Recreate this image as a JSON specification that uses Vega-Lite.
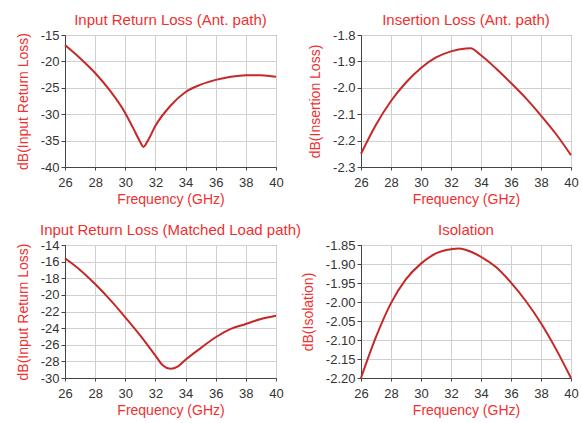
{
  "$schema": "https://vega.github.io/schema/vega-lite/v6.json",
  "background": "white",
  "padding": {"left": 15, "top": 12, "right": 5, "bottom": 5},
  "bounds": "flush",
  "columns": 2,
  "spacing": {"row": 78, "column": 85},
  "datasets": {
    "p1": [
      {"f": 26, "v": -16.9}, {"f": 27, "v": -19.4}, {"f": 28, "v": -22.2}, {"f": 29, "v": -25.6},
      {"f": 30, "v": -29.8}, {"f": 30.5, "v": -32.5}, {"f": 31, "v": -35.3}, {"f": 31.2, "v": -36.2},
      {"f": 31.5, "v": -35.0}, {"f": 32, "v": -32.2}, {"f": 33, "v": -28.4}, {"f": 34, "v": -25.8},
      {"f": 35, "v": -24.4}, {"f": 36, "v": -23.5}, {"f": 37, "v": -22.9}, {"f": 38, "v": -22.6},
      {"f": 39, "v": -22.6}, {"f": 40, "v": -22.9}
    ],
    "p2": [
      {"f": 26, "v": -2.25}, {"f": 27, "v": -2.14}, {"f": 28, "v": -2.05}, {"f": 29, "v": -1.98},
      {"f": 30, "v": -1.925}, {"f": 31, "v": -1.885}, {"f": 32, "v": -1.862}, {"f": 33, "v": -1.851},
      {"f": 33.3, "v": -1.85}, {"f": 34, "v": -1.877}, {"f": 35, "v": -1.927}, {"f": 36, "v": -1.982},
      {"f": 37, "v": -2.04}, {"f": 38, "v": -2.105}, {"f": 39, "v": -2.175}, {"f": 40, "v": -2.255}
    ],
    "p3": [
      {"f": 26, "v": -15.6}, {"f": 27, "v": -17.0}, {"f": 28, "v": -18.7}, {"f": 29, "v": -20.6},
      {"f": 30, "v": -22.7}, {"f": 31, "v": -24.9}, {"f": 32, "v": -27.3}, {"f": 32.5, "v": -28.5},
      {"f": 33, "v": -28.9}, {"f": 33.5, "v": -28.6}, {"f": 34, "v": -27.8}, {"f": 35, "v": -26.4},
      {"f": 36, "v": -25.1}, {"f": 37, "v": -24.1}, {"f": 38, "v": -23.5}, {"f": 39, "v": -22.9},
      {"f": 40, "v": -22.5}
    ],
    "p4": [
      {"f": 26, "v": -2.2}, {"f": 27, "v": -2.092}, {"f": 28, "v": -2.003}, {"f": 29, "v": -1.94},
      {"f": 30, "v": -1.899}, {"f": 31, "v": -1.872}, {"f": 32, "v": -1.861}, {"f": 32.5, "v": -1.859},
      {"f": 33, "v": -1.863}, {"f": 34, "v": -1.881}, {"f": 35, "v": -1.908}, {"f": 36, "v": -1.949},
      {"f": 37, "v": -1.998}, {"f": 38, "v": -2.056}, {"f": 39, "v": -2.124}, {"f": 40, "v": -2.2}
    ]
  },
  "concat": [
    {
      "width": 211, "height": 132,
      "title": "Input Return Loss (Ant. path)",
      "data": {"name": "p1"},
      "mark": {"type": "line", "color": "#c62828", "strokeWidth": 2, "interpolate": "monotone"},
      "encoding": {
        "x": {"field": "f", "type": "quantitative", "title": "Frequency (GHz)",
              "scale": {"domain": [26, 40], "nice": false}, "axis": {"values": [26, 28, 30, 32, 34, 36, 38, 40]}},
        "y": {"field": "v", "type": "quantitative", "title": "dB(Input Return Loss)",
              "scale": {"domain": [-40, -15], "nice": false, "zero": false}, "axis": {"values": [-40, -35, -30, -25, -20, -15]}}
      }
    },
    {
      "width": 210, "height": 132,
      "title": "Insertion Loss (Ant. path)",
      "data": {"name": "p2"},
      "mark": {"type": "line", "color": "#c62828", "strokeWidth": 2, "interpolate": "monotone"},
      "encoding": {
        "x": {"field": "f", "type": "quantitative", "title": "Frequency (GHz)",
              "scale": {"domain": [26, 40], "nice": false}, "axis": {"values": [26, 28, 30, 32, 34, 36, 38, 40]}},
        "y": {"field": "v", "type": "quantitative", "title": "dB(Insertion Loss)",
              "scale": {"domain": [-2.3, -1.8], "nice": false, "zero": false}, "axis": {"values": [-2.3, -2.2, -2.1, -2.0, -1.9, -1.8], "format": ".1f"}}
      }
    },
    {
      "width": 211, "height": 133,
      "title": "Input Return Loss (Matched Load path)",
      "data": {"name": "p3"},
      "mark": {"type": "line", "color": "#c62828", "strokeWidth": 2, "interpolate": "monotone"},
      "encoding": {
        "x": {"field": "f", "type": "quantitative", "title": "Frequency (GHz)",
              "scale": {"domain": [26, 40], "nice": false}, "axis": {"values": [26, 28, 30, 32, 34, 36, 38, 40]}},
        "y": {"field": "v", "type": "quantitative", "title": "dB(Input Return Loss)",
              "scale": {"domain": [-30, -14], "nice": false, "zero": false}, "axis": {"values": [-30, -28, -26, -24, -22, -20, -18, -16, -14]}}
      }
    },
    {
      "width": 210, "height": 133,
      "title": "Isolation",
      "data": {"name": "p4"},
      "mark": {"type": "line", "color": "#c62828", "strokeWidth": 2, "interpolate": "monotone"},
      "encoding": {
        "x": {"field": "f", "type": "quantitative", "title": "Frequency (GHz)",
              "scale": {"domain": [26, 40], "nice": false}, "axis": {"values": [26, 28, 30, 32, 34, 36, 38, 40]}},
        "y": {"field": "v", "type": "quantitative", "title": "dB(Isolation)",
              "scale": {"domain": [-2.2, -1.85], "nice": false, "zero": false}, "axis": {"values": [-2.2, -2.15, -2.1, -2.05, -2.0, -1.95, -1.9, -1.85], "format": ".2f"}}
      }
    }
  ],
  "config": {
    "font": "Liberation Sans",
    "view": {"stroke": "#444444", "strokeWidth": 1},
    "axis": {
      "gridColor": "#d0d0d0", "gridWidth": 1,
      "domainColor": "#444444", "tickColor": "#444444", "tickSize": 4,
      "labelColor": "#333333", "labelFontSize": 13, "labelPadding": 2,
      "labelFlush": false, "labelOverlap": false,
      "labelExpr": "replace(datum.label, '\u2212', '-')",
      "titleColor": "#f03030", "titleFontSize": 14, "titleFontWeight": "normal"
    },
    "axisX": {"titlePadding": 3, "labelPadding": 6, "tickSize": 3},
    "axisY": {"titlePadding": 10},
    "title": {"color": "#f03030", "fontSize": 15, "fontWeight": "normal", "offset": 1}
  }
}
